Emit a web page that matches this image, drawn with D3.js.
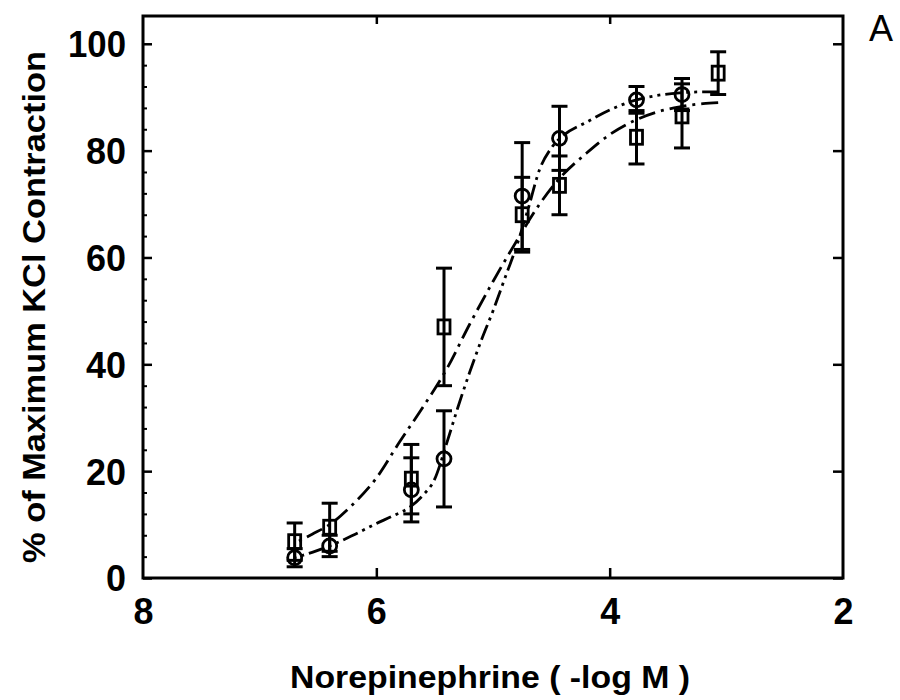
<!DOCTYPE html>
<html>
<head>
<meta charset="utf-8">
<script src="https://cdn.jsdelivr.net/npm/d3@7"></script>
<style>
  html, body { margin: 0; padding: 0; background: #fff; }
  svg { display: block; }
  text { font-family: "Liberation Sans", Arial, Helvetica, sans-serif; fill: #000; }
</style>
</head>
<body>
<svg id="chart" width="900" height="700"></svg>
<script>
// ---------- data ----------
const circleX   = [6.7, 6.4, 5.7, 5.42, 4.75, 4.43, 3.77, 3.38];
const circleY   = [3.8, 6.0, 16.5, 22.3, 71.5, 82.3, 89.5, 90.5];
const circleErr = [1.7, 2.0, 6.0, 9.0, 10.0, 6.0, 2.5, 3.0];

const squareX   = [6.7, 6.4, 5.7, 5.42, 4.75, 4.43, 3.77, 3.38, 3.07];
const squareY   = [6.8, 9.5, 18.5, 47.0, 68.0, 73.5, 82.5, 86.5, 94.5];
const squareErr = [3.5, 4.5, 6.5, 11.0, 7.0, 5.5, 5.0, 6.0, 4.0];

// fitted curves
const circleFitX = [6.7, 6.55, 6.4, 6.2, 6.0, 5.85, 5.71, 5.6, 5.5, 5.4, 5.3, 5.2, 5.1, 5.0, 4.9, 4.8, 4.7, 4.6, 4.5, 4.4, 4.2, 4.0, 3.8, 3.6, 3.4, 3.2, 3.07];
const circleFitY = [3.8, 4.8, 6.0, 8.0, 10.2, 11.7, 13.3, 15.5, 18.5, 25, 32, 38.5, 44.5, 50, 56, 62, 69, 76.5, 80.5, 82.8, 85.3, 87.6, 89.3, 90.3, 90.8, 91, 91];
const squareFitX = [6.7, 6.55, 6.4, 6.2, 6.0, 5.8, 5.6, 5.4, 5.2, 5.0, 4.8, 4.6, 4.43, 4.2, 4.0, 3.8, 3.6, 3.4, 3.2, 3.07];
const squareFitY = [6.5, 8.2, 10, 13.8, 18.7, 25.5, 32, 39, 47.5, 55.5, 63, 70, 74.8, 79.5, 83, 85.5, 87.2, 88.2, 88.8, 89];

const xTickValues = [8, 6, 4, 2];
const yTickValues = [0, 20, 40, 60, 80, 100];
const xTitle = "Norepinephrine ( -log M )";
const yTitle = "% of Maximum KCl Contraction";
const panelLabel = "A";

// ---------- layout ----------
const svg = d3.select("#chart");
const L = 143, R = 843, T = 16, B = 578;

const x = d3.scaleLinear().domain([8, 2]).range([L, R]);
const y = d3.scaleLinear().domain([0, 105.2]).range([B, T]);

// frame
svg.append("rect")
  .attr("x", L).attr("y", T).attr("width", R - L).attr("height", B - T)
  .attr("fill", "none").attr("stroke", "#000").attr("stroke-width", 3);

// left axis: major ticks with labels
const gL = svg.append("g").attr("transform", `translate(${L},0)`)
  .call(d3.axisLeft(y).tickValues(yTickValues).tickSize(-9).tickPadding(17).tickFormat(d3.format("d")));
gL.attr("font-size", null).attr("font-family", null);
gL.select(".domain").remove();
gL.selectAll("line").attr("stroke", "#000").attr("stroke-width", 2.5);
gL.selectAll("text")
  .style("font-size", "36px").style("font-weight", "900")
  .attr("textLength", d => d === 100 ? 58 : (d === 0 ? 20 : 40))
  .attr("lengthAdjust", "spacingAndGlyphs")
  .attr("dy", "0.36em");

// left axis: minor ticks
const minorVals = d3.range(0, 104, 4).filter(v => v % 20 !== 0);
const gLm = svg.append("g").attr("transform", `translate(${L},0)`)
  .call(d3.axisLeft(y).tickValues(minorVals).tickSize(-4).tickFormat(""));
gLm.select(".domain").remove();
gLm.selectAll("line").attr("stroke", "#000").attr("stroke-width", 2);

// right axis ticks (inward)
const gR = svg.append("g").attr("transform", `translate(${R},0)`)
  .call(d3.axisRight(y).tickValues(yTickValues).tickSize(-10).tickFormat(""));
gR.select(".domain").remove();
gR.selectAll("line").attr("stroke", "#000").attr("stroke-width", 2.5);

// bottom axis
const gB = svg.append("g").attr("transform", `translate(0,${B})`)
  .call(d3.axisBottom(x).tickValues(xTickValues).tickSize(-10).tickPadding(20).tickFormat(d3.format("d")));
gB.attr("font-size", null).attr("font-family", null);
gB.select(".domain").remove();
gB.selectAll("line").attr("stroke", "#000").attr("stroke-width", 2.5)
  .attr("opacity", d => (d === 8 || d === 2) ? 0 : 1);
gB.selectAll("text").style("font-size", "36px").style("font-weight", "900")
  .attr("textLength", 20).attr("lengthAdjust", "spacingAndGlyphs");

// top axis ticks
const gT = svg.append("g").attr("transform", `translate(0,${T})`)
  .call(d3.axisTop(x).tickValues([6, 4]).tickSize(-8).tickFormat(""));
gT.select(".domain").remove();
gT.selectAll("line").attr("stroke", "#000").attr("stroke-width", 2.5);

// titles
svg.append("text")
  .attr("x", 490).attr("y", 688)
  .attr("text-anchor", "middle")
  .attr("textLength", 400).attr("lengthAdjust", "spacingAndGlyphs")
  .style("font-size", "32px").style("font-weight", "900")
  .text(xTitle);

svg.append("text")
  .attr("transform", "translate(45,307) rotate(-90)")
  .attr("text-anchor", "middle")
  .attr("textLength", 512).attr("lengthAdjust", "spacingAndGlyphs")
  .style("font-size", "32px").style("font-weight", "900")
  .text(yTitle);

svg.append("text")
  .attr("x", 881).attr("y", 41)
  .attr("text-anchor", "middle")
  .style("font-size", "36px")
  .text(panelLabel);

// fitted curves
const line = d3.line().x(d => x(d[0])).y(d => y(d[1])).curve(d3.curveMonotoneX);
const circleFit = circleFitX.map((v, i) => [v, circleFitY[i]]);
const squareFit = squareFitX.map((v, i) => [v, squareFitY[i]]);

svg.append("path").datum(squareFit)
  .attr("d", d => line(d.slice().reverse()))
  .attr("fill", "none").attr("stroke", "#000").attr("stroke-width", 2.8)
  .attr("stroke-dasharray", "17,6,3,6");

svg.append("path").datum(circleFit)
  .attr("d", d => line(d.slice().reverse()))
  .attr("fill", "none").attr("stroke", "#000").attr("stroke-width", 2.8)
  .attr("stroke-dasharray", "16,5,3,5,3,5");

// error bars
function errorBars(xs, ys, es, cls) {
  const data = xs.map((v, i) => ({x: v, y: ys[i], e: es[i]}));
  const g = svg.append("g").attr("class", cls);
  const cap = 8;
  g.selectAll("line.v").data(data).enter().append("line")
    .attr("x1", d => x(d.x)).attr("x2", d => x(d.x))
    .attr("y1", d => y(d.y - d.e)).attr("y2", d => y(d.y + d.e))
    .attr("stroke", "#000").attr("stroke-width", 3);
  g.selectAll("line.t").data(data).enter().append("line")
    .attr("x1", d => x(d.x) - cap).attr("x2", d => x(d.x) + cap)
    .attr("y1", d => y(d.y + d.e)).attr("y2", d => y(d.y + d.e))
    .attr("stroke", "#000").attr("stroke-width", 3);
  g.selectAll("line.b").data(data).enter().append("line")
    .attr("x1", d => x(d.x) - cap).attr("x2", d => x(d.x) + cap)
    .attr("y1", d => y(d.y - d.e)).attr("y2", d => y(d.y - d.e))
    .attr("stroke", "#000").attr("stroke-width", 3);
  return data;
}
const cData = errorBars(circleX, circleY, circleErr, "circ-err");
const sData = errorBars(squareX, squareY, squareErr, "sq-err");

// markers
svg.append("g").selectAll("rect").data(sData).enter().append("rect")
  .attr("x", d => x(d.x) - 6).attr("y", d => y(d.y) - 7)
  .attr("width", 12).attr("height", 14)
  .attr("fill", "none").attr("stroke", "#000").attr("stroke-width", 2.8);

svg.append("g").selectAll("circle").data(cData).enter().append("circle")
  .attr("cx", d => x(d.x)).attr("cy", d => y(d.y)).attr("r", 7)
  .attr("fill", "none").attr("stroke", "#000").attr("stroke-width", 2.8);
</script>
</body>
</html>
